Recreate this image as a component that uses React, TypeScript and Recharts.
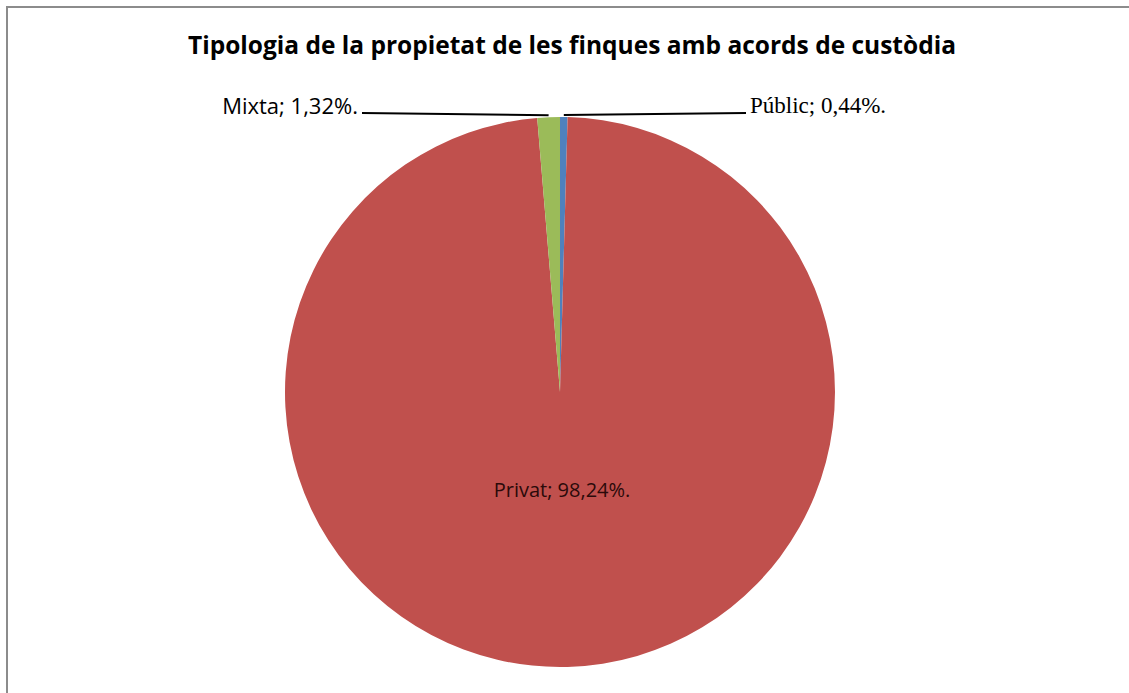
import React from 'react';
import { PieChart, Pie, Cell } from 'recharts';

const categories = ['Públic', 'Privat', 'Mixta'];
const percentages = [0.44, 98.24, 1.32];
const COLORS = ['#4F81BD', '#C0504D', '#9BBB59'];

const chartData = categories.map((name, i) => ({ name, value: percentages[i] }));

const FONT = '"Open Sans", "Liberation Sans", sans-serif';
const SERIF = '"Liberation Serif", "DejaVu Serif", serif';

const fmt = (v: number) => `${v.toFixed(2).replace('.', ',')}%.`;

// Etiquetes: les petites amb línia guia horitzontal, la gran a dins
const renderLabel = (props: any) => {
    const { cx, cy, midAngle, outerRadius, name, value, index } = props;
    const RAD = Math.PI / 180;
    const text = `${name}; ${fmt(value)}`;

    if (name === 'Privat') {
        return (
            <text x={cx + 2} y={cy + 97} textAnchor="middle" dominantBaseline="central"
                fill="#2b0a0a" fontSize={20} fontFamily={FONT} key={`l-${index}`}>
                {text}
            </text>
        );
    }

    const ex = cx + outerRadius * Math.cos(-midAngle * RAD);
    const ey = cy + outerRadius * Math.sin(-midAngle * RAD) - 2;
    const right = name === 'Públic';
    const lx = right ? cx + 186 : cx - 198;
    const ly = cy - outerRadius - 4;

    return (
        <g key={`l-${index}`}>
            <polyline points={`${ex},${ey} ${lx},${ly}`} stroke="#000" strokeWidth={2} fill="none" />
            <text x={right ? lx + 4 : lx - 4} y={ly - 8} textAnchor={right ? 'start' : 'end'}
                dominantBaseline="central" fill="#000"
                fontSize={right ? 23 : 22} fontFamily={right ? SERIF : FONT}>
                {text}
            </text>
        </g>
    );
};

const App: React.FC = () => {
    return (
        <div style={{ position: 'absolute', left: 0, top: 0, width: 1129, height: 693, background: '#fff', overflow: 'hidden' }}>
            <div style={{ position: 'absolute', left: 6, top: 6, right: 0, bottom: 0, borderTop: '2px solid #8c8c8c', borderLeft: '2px solid #8c8c8c' }} />
            <div style={{ position: 'absolute', left: 15, top: 28, width: 1114, textAlign: 'center', fontFamily: FONT, fontWeight: 700, fontSize: 24.5, color: '#000' }}>
                Tipologia de la propietat de les finques amb acords de custòdia
            </div>
            <div style={{ position: 'absolute', left: 0, top: 0 }}>
                <PieChart width={1129} height={693} margin={{ top: 0, right: 0, bottom: 0, left: 0 }}>
                    <Pie
                        data={chartData}
                        dataKey="value"
                        nameKey="name"
                        cx={560}
                        cy={392}
                        outerRadius={275}
                        startAngle={90}
                        endAngle={-270}
                        stroke="none"
                        label={renderLabel}
                        labelLine={false}
                        isAnimationActive={false}
                    >
                        {chartData.map((_, index) => (
                            <Cell key={`cell-${index}`} fill={COLORS[index % COLORS.length]} />
                        ))}
                    </Pie>
                </PieChart>
            </div>
        </div>
    );
};

export default App;
